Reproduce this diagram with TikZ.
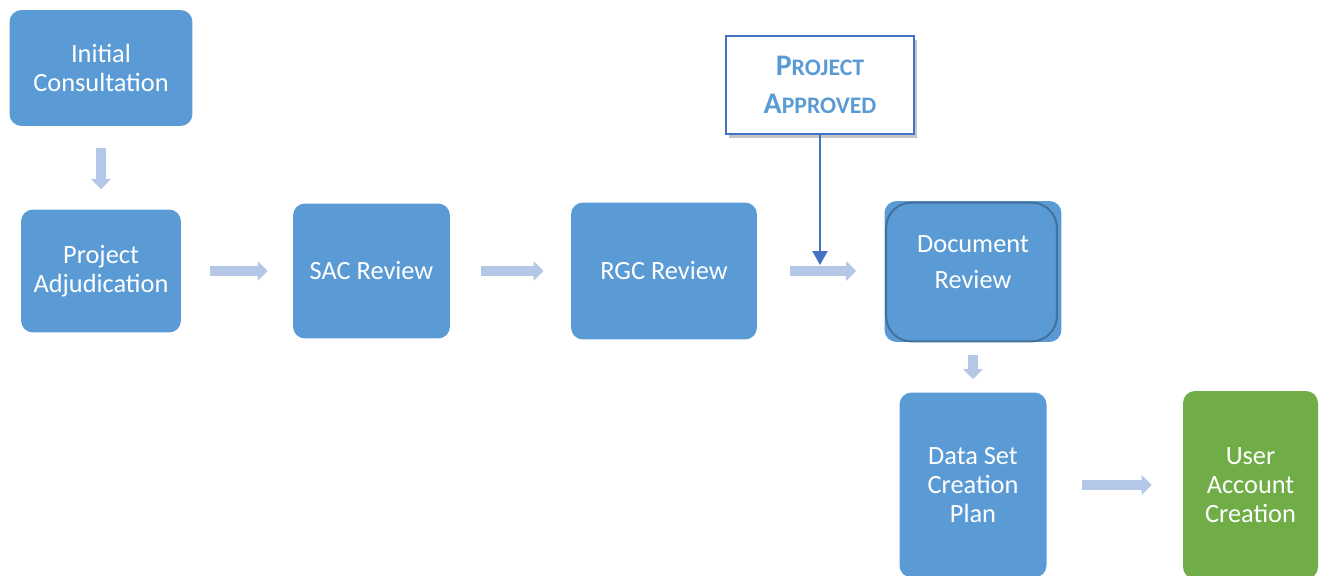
\documentclass[tikz,border=0pt]{standalone}
\usepackage{fontspec}
\setmainfont{Carlito}
\usetikzlibrary{arrows.meta,calc,shadows}
\definecolor{boxblue}{HTML}{5B9BD5}
\definecolor{boxgreen}{HTML}{70AD47}
\definecolor{flowblue}{HTML}{B4C7E7}
\definecolor{linkblue}{HTML}{4472C4}
\definecolor{edgeblue}{HTML}{41719C}
\newcommand{\capword}[2]{{\fontsize{17}{21.6}\selectfont #1}#2}
\tikzset{
	stage/.style 2 args={rounded corners=0.24cm,fill=boxblue,text=white,align=center,inner sep=0pt,minimum width=#1,minimum height=#2,font=\fontsize{15}{16.5}\selectfont},
	donestage/.style 2 args={stage={#1}{#2},fill=boxgreen},
	stagetext/.style={text=white,align=center,font=\fontsize{15}{20.4}\selectfont},
	flow/.style={draw=flowblue,line width=0.2cm,-{Triangle[length=0.2cm,width=0.38cm]}},
	approved/.style={draw=linkblue,line width=0.05cm,fill=white,text=boxblue,align=center,minimum width=3.76cm,minimum height=1.96cm,font=\bfseries\fontsize{13.5}{21.6}\selectfont,drop shadow={shadow xshift=0.06cm,shadow yshift=-0.08cm,fill=black!45,opacity=0.5}},
	link/.style={draw=linkblue,line width=0.04cm,-{Triangle[length=0.28cm,width=0.3cm]}}
}

\begin{document}
\begin{tikzpicture}[x=0.02cm,y=-0.02cm]
	\useasboundingbox (0,0) rectangle (1321,575);
	\node [stage={3.66cm}{2.32cm}] (init) at (101,68) {Initial\\Consultation};
	\node [stage={3.2cm}{2.46cm}] (adj) at (101,271) {Project\\Adjudication};
	\node [stage={3.14cm}{2.7cm}] (sac) at (371.5,271) {SAC Review};
	\node [stage={3.72cm}{2.74cm}] (rgc) at (664,271) {RGC Review};
	\node [stage={3.54cm}{2.82cm}] (doc) at (973,271.5) {};
	\draw [edgeblue,line width=0.04cm,rounded corners=0.5cm] ($(doc.north west)+(2,2)$) rectangle ($(doc.south east)+(-5,-1)$);
	\node [stagetext] (doctext) at ([yshift=0.18cm]doc.center) {Document\\Review};
	\node [stage={2.94cm}{3.7cm}] (dsc) at (973,485) {Data Set\\Creation\\Plan};
	\node [donestage={2.7cm}{3.76cm}] (uac) at (1250.5,485) {User\\Account\\Creation};
	\node [approved] (appr) at (820,85) {\capword{P}{ROJECT}\\\capword{A}{PPROVED}};

	\draw [flow] ($(init.south)+(0,22)$) -- ($(adj.north)+(0,-20)$);
	\draw [flow] ($(adj.east)+(29,0)$) -- ($(sac.west)+(-25,0)$);
	\draw [flow] ($(sac.east)+(31,0)$) -- ($(rgc.west)+(-27,0)$);
	\draw [flow] ($(rgc.east)+(33,0)$) -- ($(doc.west)+(-28,-0.5)$);
	\draw [flow] ($(doc.south)+(0,13)$) -- ($(dsc.north)+(0,-13)$);
	\draw [flow] ($(dsc.east)+(35,0)$) -- ($(uac.west)+(-31,0)$);
	\draw [link] (appr.south) -- ($(appr.south |- rgc.east)+(0,-6)$);
\end{tikzpicture}
\end{document}
